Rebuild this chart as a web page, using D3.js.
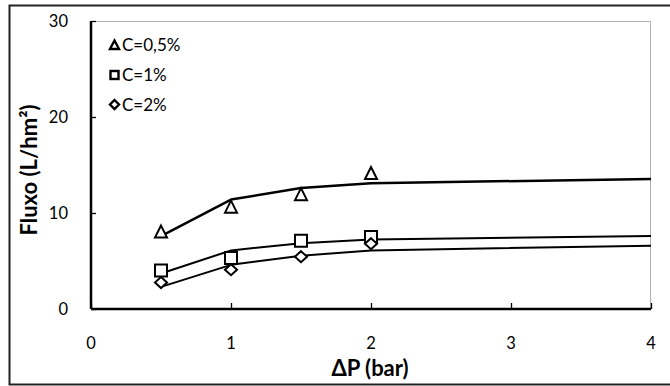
<!DOCTYPE html>
<html><head><meta charset="utf-8">
<script src="https://cdn.jsdelivr.net/npm/d3@7"></script>
<style>body{margin:0;background:#fff}svg{display:block}text{font-family:Lato,"Open Sans",sans-serif;fill:#000}</style>
</head><body><svg id="c" width="670" height="386"></svg>
<script>
const xPoints = [0.5, 1, 1.5, 2];
const triPoints = [8.0, 10.6, 11.9, 14.1];
const sqPoints = [4.0, 5.3, 7.1, 7.5];
const diaPoints = [2.75, 4.1, 5.45, 6.8];
const xFit = [0.5, 1, 1.5, 2, 4];
const triFit = [7.6, 11.4, 12.6, 13.1, 13.55];
const sqFit = [3.7, 6.1, 6.85, 7.25, 7.6];
const diaFit = [2.3, 4.6, 5.55, 6.1, 6.6];
const xTicks = [0, 1, 2, 3, 4];
const yTicks = [0, 10, 20, 30];
const legendLabels = ["C=0,5%", "C=1%", "C=2%"];

const svg = d3.select("#c");
const x = d3.scaleLinear().domain([0, 4]).range([91, 651]);
const y = d3.scaleLinear().domain([0, 30]).range([309, 21]);

// outer frame
svg.append("path").attr("d","M671,5.5 H9.5 V384.5 H671").attr("fill","none").attr("stroke","#222").attr("stroke-width",2);
// plot border (grey top/right)
svg.append("path").attr("d",`M${x(0)},${y(30)+0.5} H${x(4)-0.5} V${y(0)}`).attr("fill","none").attr("stroke","#b0b0b0").attr("stroke-width",1);

// axes
const yAxis = d3.axisRight(y).tickValues(yTicks).tickSize(5).tickFormat("");
const gy = svg.append("g").attr("transform",`translate(${x(0)},0)`).call(yAxis);
const xAxis = d3.axisTop(x).tickValues(xTicks).tickSize(6).tickFormat("");
const gx = svg.append("g").attr("transform",`translate(0,${y(0)})`).call(xAxis);
[gx, gy].forEach(g => { g.selectAll("line").attr("stroke","#000").attr("stroke-width",1.3); g.select(".domain").attr("stroke","#000").attr("stroke-width",2.5); });
gx.select(".domain").attr("d",`M${x(0)},0H${x(4)}`);
gy.select(".domain").attr("d",`M0,${y(0)}V${y(30)}`);

svg.selectAll(".yl").data(yTicks).join("text").attr("x",68).attr("y",d=>y(d)).attr("dy","0.36em")
  .attr("text-anchor","end").attr("font-size",16.5).text(d=>d);
svg.selectAll(".xl").data(xTicks).join("text").attr("x",d=>x(d)).attr("y",343).attr("dy","0.36em")
  .attr("text-anchor","middle").attr("font-size",16.5).text(d=>d);

svg.append("text").attr("transform","translate(37,170) rotate(-90)").attr("text-anchor","middle")
  .attr("font-size",22).attr("font-weight","bold").text("Fluxo (L/hm²)");
svg.append("text").attr("x",370).attr("y",376).attr("text-anchor","middle")
  .attr("font-size",22).attr("font-weight","bold").text("ΔP (bar)");

// fit lines
const line = d3.line().x(d=>x(d[0])).y(d=>y(d[1]));
[[triFit,2.5],[sqFit,2],[diaFit,2]].forEach(([vals,w]) => {
  svg.append("path").datum(xFit.map((v,i)=>[v,vals[i]])).attr("d",line)
    .attr("fill","none").attr("stroke","#000").attr("stroke-width",w).attr("stroke-linejoin","round");
});

// markers
function marker(g, type, cx, cy, s) {
  let d;
  if (type==="tri") d=`M${cx},${cy-s*0.55} L${cx+s*0.5},${cy+s*0.45} L${cx-s*0.5},${cy+s*0.45} Z`;
  else if (type==="sq") d=`M${cx-s/2},${cy-s/2} h${s} v${s} h${-s} Z`;
  else d=`M${cx},${cy-s*0.5} L${cx+s*0.55},${cy} L${cx},${cy+s*0.5} L${cx-s*0.55},${cy} Z`;
  g.append("path").attr("d",d).attr("fill","#fff").attr("stroke","#000").attr("stroke-width",2);
}
const mg = svg.append("g");
xPoints.forEach((v,i)=>{
  marker(mg,"sq",x(v),y(sqPoints[i]),12);
  marker(mg,"dia",x(v),y(diaPoints[i]),11);
  marker(mg,"tri",x(v),y(triPoints[i]),12);
});

// legend
const types = ["tri","sq","dia"];
const ly = [45, 75, 104.5];
const lx = 114.5;
legendLabels.forEach((t,i)=>{
  const g = svg.append("g");
  if (types[i]==="tri") g.append("path").attr("d",`M${lx},${ly[i]-4.5} L${lx+4.5},${ly[i]+4} L${lx-4.5},${ly[i]+4} Z`).attr("fill","#fff").attr("stroke","#000").attr("stroke-width",2.4);
  else if (types[i]==="sq") g.append("rect").attr("x",lx-4).attr("y",ly[i]-4).attr("width",8).attr("height",8).attr("fill","#fff").attr("stroke","#000").attr("stroke-width",2.4);
  else g.append("path").attr("d",`M${lx},${ly[i]-4.5} L${lx+4.5},${ly[i]} L${lx},${ly[i]+4.5} L${lx-4.5},${ly[i]} Z`).attr("fill","#fff").attr("stroke","#000").attr("stroke-width",2.4);
  svg.append("text").attr("x",122).attr("y",ly[i]).attr("dy","0.36em").attr("font-size",17).text(t);
});
</script></body></html>
